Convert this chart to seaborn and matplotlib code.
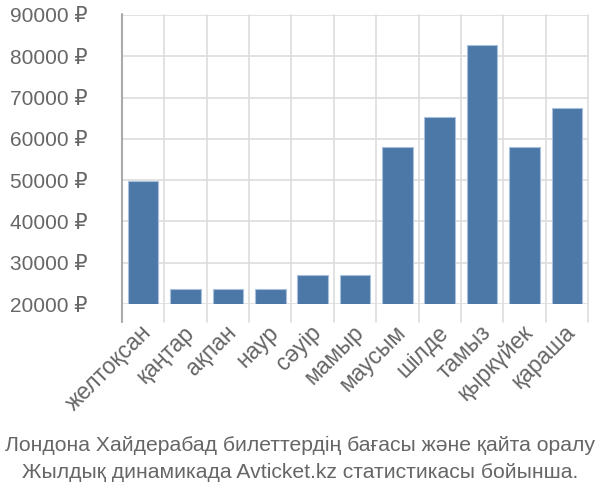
import matplotlib
matplotlib.use("Agg")
import matplotlib.pyplot as plt
import matplotlib.lines as mlines
import matplotlib.transforms as mtransforms
from matplotlib import font_manager
import seaborn as sns
import pandas as pd
import numpy as np

months = ["желтоқсан", "қаңтар", "ақпан", "наур", "сәуір", "мамыр",
          "маусым", "шілде", "тамыз", "қыркүйек", "қараша"]
prices = [49850, 23600, 23600, 23600, 27000, 27000,
          58100, 65200, 82650, 58100, 67500]
yticks = [20000, 30000, 40000, 50000, 60000, 70000, 80000, 90000]
title_lines = ["Лондона Хайдерабад билеттердің бағасы және қайта оралу",
               "Жылдық динамикада Avticket.kz статистикасы бойынша."]

sns.set_theme(style="white")
plt.rcParams['font.family'] = ['Liberation Sans', 'DejaVu Sans']

available = {f.name for f in font_manager.fontManager.ttflist}
if 'Liberation Sans Narrow' in available:
    title_family = ['Liberation Sans Narrow', 'DejaVu Sans']
    title_size = 15.5
else:
    title_family = ['Liberation Sans', 'DejaVu Sans']
    title_size = 15.2

df = pd.DataFrame({"month": months, "price": prices})

fig = plt.figure(figsize=(6, 5), dpi=100)
ax = fig.add_axes([122/600, 1-304/500, (588-122)/600, (304-15)/500])

sns.barplot(data=df, x="month", y="price", color="#4c78a8", saturation=1,
            width=0.72, edgecolor="#a9c0dc", linewidth=0.8, ax=ax, zorder=3)

ax.set_ylim(20000, 90000)
ax.set_xlim(-0.5, len(months) - 0.5)
ax.set_yticks(yticks)
ax.set_yticklabels([f"{v} ₽" for v in yticks], fontsize=15, color="#666666")
ax.set_xticks(range(len(months)))
ax.set_xticklabels(months, rotation=45, ha="right", va="center",
                   rotation_mode="anchor", fontsize=16.5, color="#666666")
ax.tick_params(axis="x", length=0, pad=18)
ax.tick_params(axis="y", length=22, color="#dddddd", width=1.2, pad=3)
offset = mtransforms.ScaledTranslation(5/100, 0, fig.dpi_scale_trans)
for lab in ax.get_xticklabels():
    lab.set_transform(lab.get_transform() + offset)

# gridlines
ax.grid(False)
for y in yticks:
    ax.axhline(y, color="#dddddd", lw=1.2, zorder=1)
for i in range(len(months) + 1):
    x = i - 0.5
    ax.add_line(mlines.Line2D([x, x], [-18/289, 1.0], transform=ax.get_xaxis_transform(),
                              color="#dddddd", lw=1.2, zorder=1, clip_on=False))

for s in ["top", "right", "bottom", "left"]:
    ax.spines[s].set_visible(False)
ax.add_line(mlines.Line2D([0, 0], [-18/289, 1.004], transform=ax.transAxes,
                          color="#aaaaaa", lw=1.5, zorder=4, clip_on=False))

ax.set_xlabel("")
ax.set_ylabel("")

fig.text(0.5, 1-445/500, title_lines[0], ha="center", va="center", fontsize=title_size,
         color="#666666", family=title_family)
fig.text(0.5, 1-472/500, title_lines[1], ha="center", va="center", fontsize=title_size,
         color="#666666", family=title_family)

fig.savefig("out.png", dpi=100)
